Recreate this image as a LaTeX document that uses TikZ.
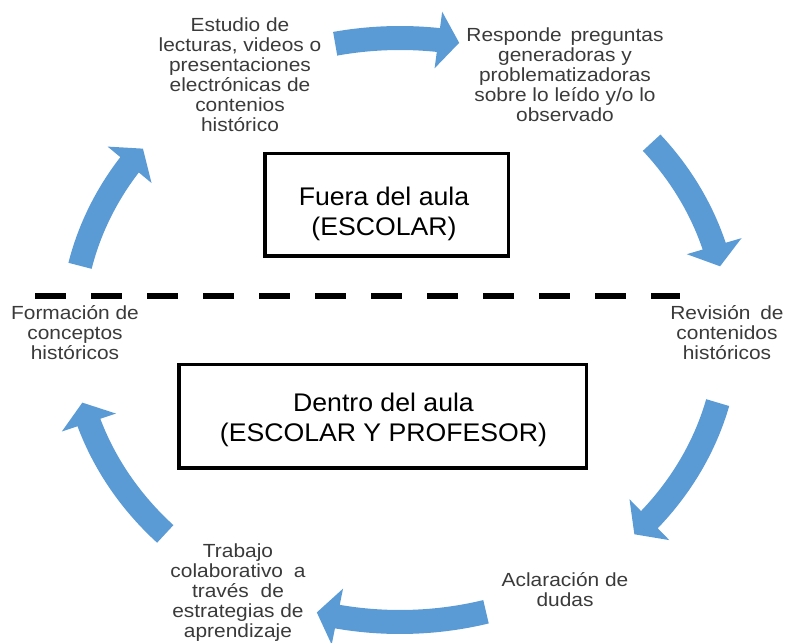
\documentclass[tikz,border=0pt]{standalone}
\usepackage{fontspec}
\setmainfont{Liberation Sans}
\newfontfamily\lblfont{Liberation Sans}[FakeStretch=1.1]
\newfontfamily\boxfont{Liberation Sans}[FakeStretch=1.045]
\usetikzlibrary{arrows.meta,bending}
\definecolor{arrowblue}{HTML}{5B9BD5}
\definecolor{txtgray}{HTML}{3A3A3A}
\begin{document}
\begin{tikzpicture}[x=1pt,y=1pt,
  lbl/.style={align=center, inner sep=0pt, anchor=north, text=txtgray, font=\lblfont\fontsize{19}{20}\selectfont},
  boxtxt/.style={align=center, inner sep=0pt, anchor=north, text=black, font=\boxfont\fontsize{25.5}{29.5}\selectfont},
  frame/.style={draw=black, line width=3.5pt, inner sep=0pt},
  cyc/.style={draw=arrowblue, line width=24pt, -{Triangle[length=21pt,width=56pt]}},
  divline/.style={draw=black, line width=6pt, dash pattern=on 31pt off 25pt}]
\useasboundingbox (0,0) rectangle (785,643);
\coordinate (c) at (400,313);

% cycle arrows
\draw[cyc] ([shift={(c)}]101.4:328pt and 292pt) arc[start angle=101.4, end angle=79.6, x radius=328pt, y radius=292pt];
\draw[cyc] ([shift={(c)}]39.9:328pt and 292pt) arc[start angle=39.9, end angle=12.6, x radius=328pt, y radius=292pt];
\draw[cyc] ([shift={(c)}]-14.4:328pt and 292pt) arc[start angle=-14.4, end angle=-44.4, x radius=328pt, y radius=292pt];
\draw[cyc] ([shift={(c)}]-74.8:328pt and 292pt) arc[start angle=-74.8, end angle=-104.7, x radius=328pt, y radius=292pt];
\draw[cyc] ([shift={(c)}]-135.7:328pt and 292pt) arc[start angle=-135.7, end angle=-165.6, x radius=328pt, y radius=292pt];
\draw[cyc] ([shift={(c)}]167.3:328pt and 292pt) arc[start angle=167.3, end angle=141.6, x radius=328pt, y radius=292pt];

% dashed divider
\coordinate (dl) at (35,347);
\coordinate (dr) at (680,347);
\draw[divline] (dl) -- (dr);

% boxes
\node[frame, minimum width=243.5pt, minimum height=102.5pt] (box1) at (386.5,438) {};
\node[boxtxt] (box1t) at (384,456) {Fuera del aula\\(ESCOLAR)};
\node[frame, minimum width=407.5pt, minimum height=103.5pt] (box2) at (382.5,226.5) {};
\node[boxtxt] (box2t) at (383.5,250) {Dentro del aula\\(ESCOLAR Y PROFESOR)};

% labels
\node[lbl] (l1) at (240,625) {Estudio de\\lecturas, videos o\\presentaciones\\electrónicas de\\contenios\\histórico};
\node[lbl] (l2) at (565,615) {Responde\hspace{3pt} preguntas\\generadoras y\\problematizadoras\\sobre lo leído y/o lo\\observado};
\node[lbl] (l3) at (727,338) {Revisión\hspace{4pt} de\\contenidos\\históricos};
\node[lbl] (l4) at (565,71) {Aclaración de\\dudas};
\node[lbl] (l5) at (238,99) {Trabajo\\colaborativo\hspace{5pt} a\\través\hspace{6pt} de\\estrategias de\\aprendizaje};
\node[lbl] (l6) at (75,338) {Formación de\\conceptos\\históricos};
\end{tikzpicture}
\end{document}
